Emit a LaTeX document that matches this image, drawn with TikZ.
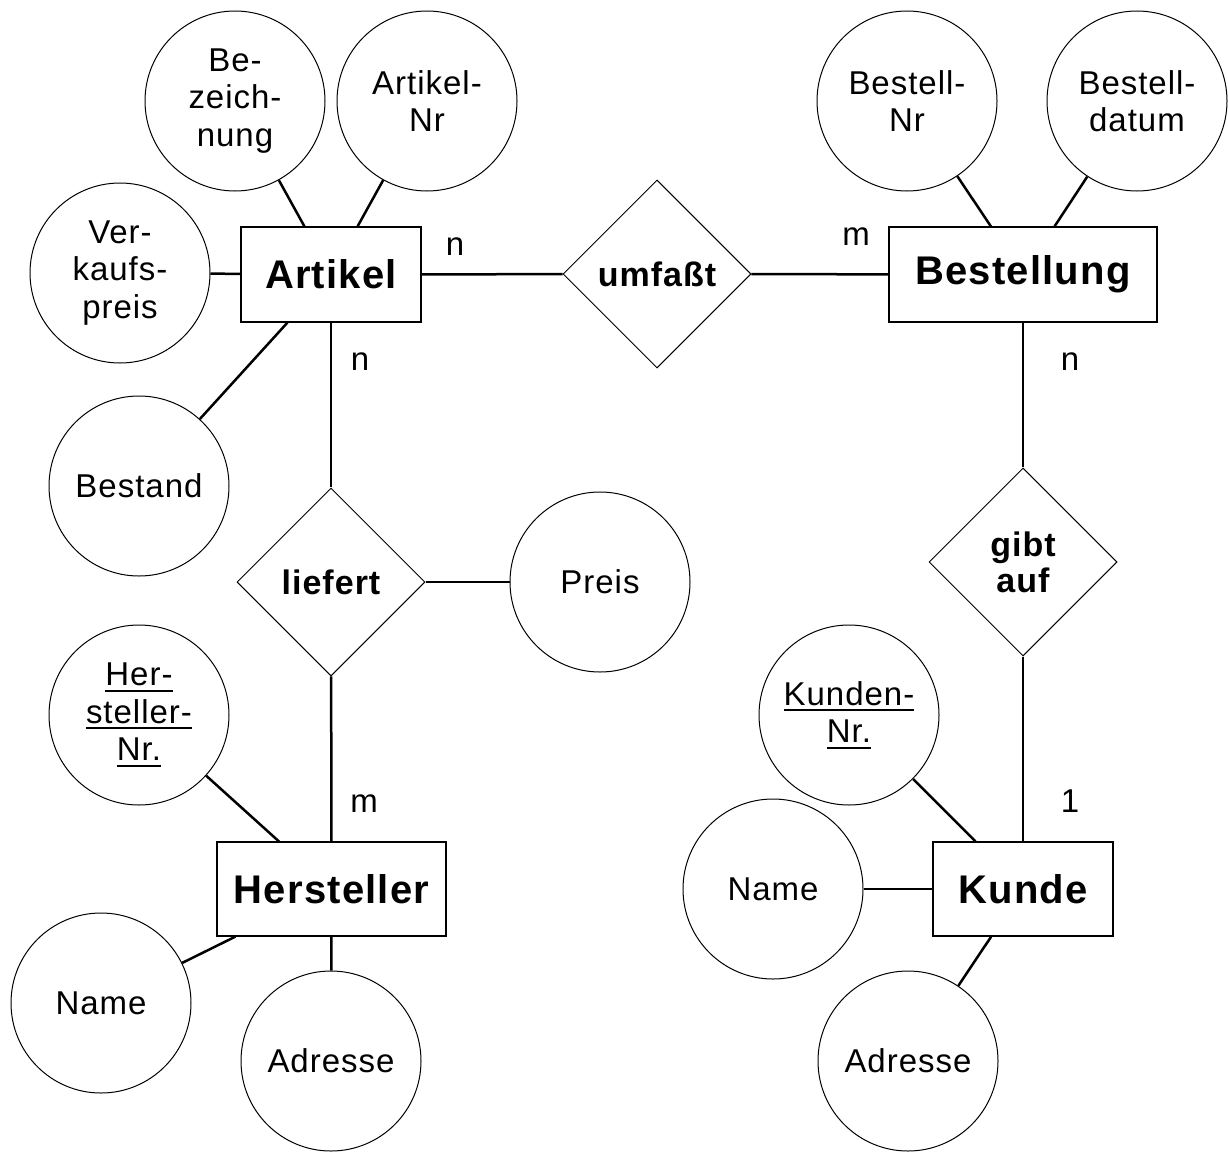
\documentclass[tikz,border=0pt]{standalone}
\usepackage{fontspec}
\setmainfont{Liberation Sans}[LetterSpace=3]
\usetikzlibrary{shapes.geometric}
\newsavebox\ulbox
\newcommand\ulx[1]{\sbox\ulbox{#1}\rlap{\rule[-6pt]{\wd\ulbox}{2pt}}\usebox\ulbox}
\tikzset{
  attr/.style={circle, draw, line width=1pt, minimum size=180pt, inner sep=0pt, align=center, font=\fontsize{33}{37.5}\selectfont},
  ent/.style={rectangle, draw, line width=1.2pt, inner sep=0pt, font=\fontsize{40}{44}\selectfont\bfseries},
  rel/.style={diamond, draw, line width=1pt, minimum width=188pt, minimum height=188pt, inner sep=0pt, align=center, font=\fontsize{34}{36}\selectfont\bfseries},
  card/.style={anchor=base, inner sep=0pt, font=\fontsize{33}{36}\selectfont},
  conn/.style={line width=2.5pt},
}
\begin{document}
\begin{tikzpicture}[x=1pt,y=-1pt]
\useasboundingbox (0,0) rectangle (1228,1151);
% entities
\node[ent, minimum width=180pt, minimum height=95pt] (artikel) at (331,274.5) {Artikel};
\node[ent, minimum width=268pt, minimum height=95pt] (bestellung) at (1023,274.5) {Bestellung};
\node[ent, minimum width=229pt, minimum height=94pt] (hersteller) at (331.5,889) {Hersteller};
\node[ent, minimum width=180pt, minimum height=94pt] (kunde) at (1023,889) {Kunde};
% relationships
\node[rel] (umfasst) at (657,274) {umfaßt};
\node[rel] (liefert) at (331,582) {liefert};
\node[rel] (gibtauf) at (1023,562) {gibt\\auf};
% attributes
\node[attr] (bez) at (235,101) {Be-\\zeich-\\nung};
\node[attr] (artnr) at (427,101) {Artikel-\\Nr};
\node[attr] (vkp) at (120,273) {Ver-\\kaufs-\\preis};
\node[attr] (bestand) at (139,486) {Bestand};
\node[attr] (bnr) at (907,101) {Bestell-\\Nr};
\node[attr] (bdat) at (1137,101) {Bestell-\\datum};
\node[attr] (preis) at (600,582) {Preis};
\node[attr] (hnr) at (139,715) {\ulx{Her-}\\\ulx{steller-}\\\ulx{Nr.}};
\node[attr] (hname) at (101,1003) {Name};
\node[attr] (hadr) at (331,1061) {Adresse};
\node[attr] (knr) at (849,715) {\ulx{Kunden-}\\\ulx{Nr.}};
\node[attr] (kname) at (773,889) {Name};
\node[attr] (kadr) at (908,1061) {Adresse};
% connectors
\draw[conn] (bez) -- (artikel);
\draw[conn] (artnr) -- (artikel);
\draw[conn] (vkp) -- (artikel);
\draw[conn] (bestand) -- (artikel);
\draw[conn] (artikel) -- (umfasst);
\draw[conn] (umfasst) -- (bestellung);
\draw[conn] (bnr) -- (bestellung);
\draw[conn] (bdat) -- (bestellung);
\draw[conn] (artikel) -- (liefert);
\draw[conn] (liefert) -- (preis);
\draw[conn] (liefert) -- (hersteller);
\draw[conn] (bestellung) -- (gibtauf);
\draw[conn] (gibtauf) -- (kunde);
\draw[conn] (hnr) -- (hersteller);
\draw[conn] (hname) -- (hersteller);
\draw[conn] (hadr) -- (hersteller);
\draw[conn] (knr) -- (kunde);
\draw[conn] (kname) -- (kunde);
\draw[conn] (kadr) -- (kunde);
% cardinalities
\node[card] (c1) at (455,255) {n};
\node[card] (c2) at (856,245) {m};
\node[card] (c3) at (360,370) {n};
\node[card] (c4) at (1070,370) {n};
\node[card] (c5) at (364,812) {m};
\node[card] (c6) at (1070,812) {1};
\end{tikzpicture}
\end{document}
